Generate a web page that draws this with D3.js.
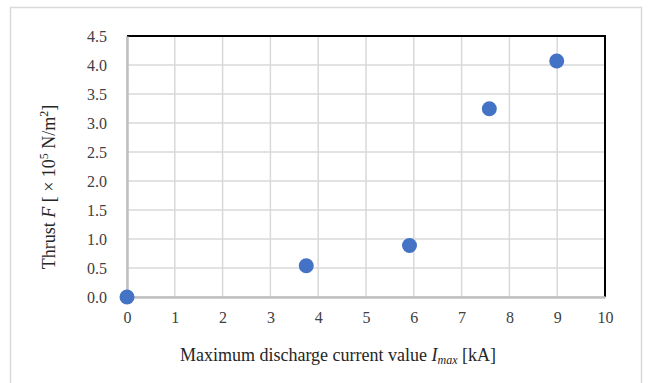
<!DOCTYPE html>
<html lang="en">
<head>
  <meta charset="UTF-8">
  <title>Thrust vs discharge current</title>
  <script src="https://cdn.jsdelivr.net/npm/d3@7"></script>
  <style>
    body { margin: 0; background: #fff; }
  </style>
</head>
<body>
  <div id="container"></div>

  <script>
    // data
    const currentKA = [0, 3.75, 5.91, 7.58, 8.99];
    const thrust = [0, 0.54, 0.887, 3.245, 4.07];
    const xTicks = [0, 1, 2, 3, 4, 5, 6, 7, 8, 9, 10];
    const yTicks = [0, 0.5, 1, 1.5, 2, 2.5, 3, 3.5, 4, 4.5];

    const serif = "'Liberation Serif', 'Times New Roman', Times, serif";

    const width = 649;
    const height = 383;
    const marginLeft = 127;
    const marginRight = 44;
    const marginTop = 36;
    const marginBottom = 86;

    const x = d3.scaleLinear()
      .domain([0, 10])
      .range([marginLeft, width - marginRight]);

    const y = d3.scaleLinear()
      .domain([0, 4.5])
      .range([height - marginBottom, marginTop]);

    const svg = d3.select("#container")
      .append("svg")
      .attr("width", width)
      .attr("height", height)
      .attr("viewBox", [0, 0, width, height])
      .style("font-family", serif);

    // outer chart frame
    svg.append("rect")
      .attr("x", 10.5).attr("y", 7.5)
      .attr("width", 631).attr("height", 390)
      .attr("fill", "#fff")
      .attr("stroke", "#d9d9d9")
      .attr("stroke-width", 1.5);

    // gridlines
    svg.append("g")
      .attr("stroke", "#d9d9d9")
      .attr("stroke-width", 1.5)
      .call(g => g.selectAll(".vx")
        .data(xTicks)
        .join("line")
        .attr("x1", d => x(d)).attr("x2", d => x(d))
        .attr("y1", y(0)).attr("y2", y(4.5)))
      .call(g => g.selectAll(".hy")
        .data(yTicks)
        .join("line")
        .attr("x1", x(0)).attr("x2", x(10))
        .attr("y1", d => y(d)).attr("y2", d => y(d)));

    // top and right border (black)
    svg.append("path")
      .attr("d", `M${x(0)},${y(4.5)}H${x(10)}V${y(0)}`)
      .attr("fill", "none")
      .attr("stroke", "#000")
      .attr("stroke-width", 2);

    // axes
    const xAxis = svg.append("g")
      .attr("transform", `translate(0,${y(0)})`)
      .call(d3.axisBottom(x).tickValues(xTicks).tickSize(0).tickPadding(15).tickFormat(d3.format("d")));

    const yAxis = svg.append("g")
      .attr("transform", `translate(${x(0)},0)`)
      .call(d3.axisLeft(y).tickValues(yTicks).tickSize(0).tickPadding(20).tickFormat(d3.format(".1f")));

    [xAxis, yAxis].forEach(a => {
      a.attr("font-size", null).attr("font-family", null);
      a.select(".domain").attr("stroke", "#bfbfbf").attr("stroke-width", 2.5);
      a.selectAll("text")
        .style("font-family", serif)
        .style("font-size", "16px")
        .style("fill", "#404040");
    });

    // points
    svg.append("g")
      .attr("fill", "#4472c4")
      .selectAll("circle")
      .data(currentKA.map((c, i) => [c, thrust[i]]))
      .join("circle")
      .attr("cx", d => x(d[0]))
      .attr("cy", d => y(d[1]))
      .attr("r", 7.5);

    // x title
    const xt = svg.append("text")
      .attr("x", 338).attr("y", 361)
      .attr("text-anchor", "middle")
      .style("font-family", serif)
      .style("fill", "#262626")
      .style("font-size", "18px");
    xt.append("tspan").text("Maximum discharge current value ");
    xt.append("tspan").attr("font-style", "italic").text("I");
    xt.append("tspan").attr("font-style", "italic").style("font-size", "12px").attr("dy", 3).text("max");
    xt.append("tspan").attr("dy", -3).text(" [kA]");

    // y title
    const yt = svg.append("text")
      .attr("transform", "translate(55,187) rotate(-90)")
      .attr("text-anchor", "middle")
      .style("font-family", serif)
      .style("fill", "#262626")
      .style("font-size", "18px");
    yt.append("tspan").text("Thrust ");
    yt.append("tspan").attr("font-style", "italic").text("F");
    yt.append("tspan").text(" [ \u00d7 10");
    yt.append("tspan").style("font-size", "12px").attr("dy", -7).text("5");
    yt.append("tspan").attr("dy", 7).text("  N/m");
    yt.append("tspan").style("font-size", "12px").attr("dy", -7).text("2");
    yt.append("tspan").attr("dy", 7).text("]");
  </script>
</body>
</html>
